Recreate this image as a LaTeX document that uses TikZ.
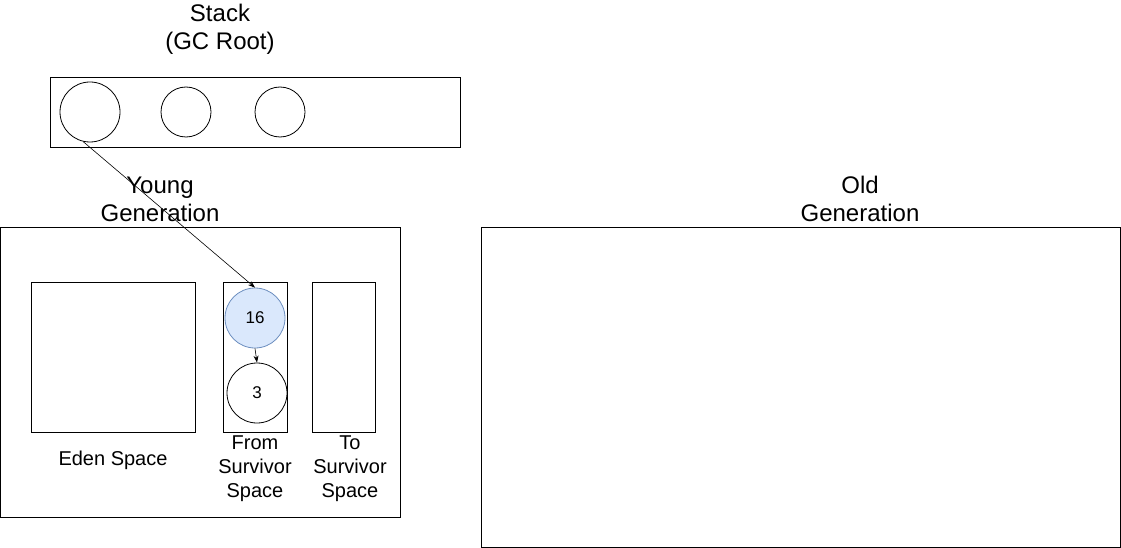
\documentclass[tikz,border=0pt]{standalone}
\usepackage{fontspec}
\setmainfont{Liberation Sans}
\usetikzlibrary{arrows.meta}
\begin{document}
\begin{tikzpicture}[x=1pt,y=-1pt,
  box/.style={draw,line width=0.8pt},
  obj/.style={draw,circle,line width=0.8pt,inner sep=0pt,font=\fontsize{17}{20}\selectfont},
  big/.style={font=\fontsize{24}{28}\selectfont,align=center,inner sep=0pt},
  small/.style={font=\fontsize{20}{24}\selectfont,align=center,inner sep=0pt},
  arr/.style={-{Stealth[length=7pt,width=5pt]},line width=0.6pt}]
\useasboundingbox (0,0) rectangle (1121,548);
% stack
\node[big] (stacklbl) at (220,29) {Stack\\(GC Root)};
\node[box,minimum width=410pt,minimum height=70pt,inner sep=0pt] (stack) at (255,112) {};
\node[obj,minimum size=60pt] (s1) at (90,112) {};
\node[obj,minimum size=50pt] (s2) at (186,112) {};
\node[obj,minimum size=50pt] (s3) at (280,112) {};
% young
\node[big] (younglbl) at (160,199) {Young\\Generation};
\node[box,minimum width=400pt,minimum height=290pt,inner sep=0pt] (young) at (200,372) {};
\node[box,minimum width=164pt,minimum height=150pt,inner sep=0pt] (eden) at (113,357) {};
\node[small] (edenlbl) at (113,460) {Eden Space};
\node[small] (fromlbl) at (255,469) {From\\Survivor\\Space};
\node[box,minimum width=64pt,minimum height=150pt,inner sep=0pt] (from) at (255,357) {};
\node[box,minimum width=63pt,minimum height=150pt,inner sep=0pt] (to) at (343.5,357) {};
\node[small] (tolbl) at (350,469) {To\\Survivor\\Space};
\node[obj,minimum size=60pt,fill={rgb,255:red,218;green,232;blue,252},draw={rgb,255:red,108;green,142;blue,191}] (c16) at (255,318) {16};
\node[obj,minimum size=60pt] (c3) at (257,393) {3};
% old
\node[big] (oldlbl) at (860,199) {Old\\Generation};
\node[box,minimum width=639pt,minimum height=320pt,inner sep=0pt] (old) at (800.5,387) {};
% arrows
\draw[arr] (s1.257) -- (c16.north);
\draw[arr] (c16.south) -- (c3.north);
\end{tikzpicture}
\end{document}
